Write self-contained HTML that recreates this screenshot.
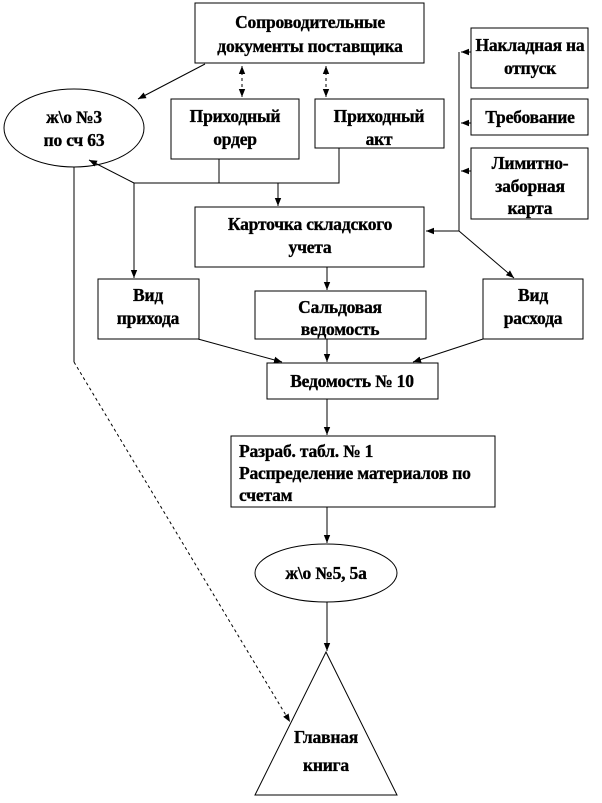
<!DOCTYPE html>
<html><head><meta charset="utf-8"><style>
html,body{margin:0;padding:0;background:#fff}
svg text{font-family:"Liberation Serif",serif;font-weight:bold;font-size:17.5px;letter-spacing:-0.2px;stroke:#000;stroke-width:0.35px}
</style></head><body>
<svg width="602" height="798" viewBox="0 0 602 798" xmlns="http://www.w3.org/2000/svg">
<defs>
<marker id="a" viewBox="0 0 10 10" refX="10" refY="5" markerWidth="8" markerHeight="8" orient="auto-start-reverse"><path d="M0,1 L10,5 L0,9 z" fill="#000"/></marker>
</defs>
<g fill="#fff" stroke="#000" stroke-width="1">
<rect x="195" y="3" width="229" height="60"/>
<ellipse cx="74" cy="128" rx="70" ry="39"/>
<rect x="171" y="99" width="128" height="60"/>
<rect x="315" y="99" width="129" height="49"/>
<rect x="471" y="28" width="117" height="60"/>
<rect x="471" y="99" width="117" height="36"/>
<rect x="471" y="148" width="117" height="71"/>
<rect x="195" y="207" width="229" height="60"/>
<rect x="98" y="279" width="101" height="60"/>
<rect x="255" y="291" width="171" height="48"/>
<rect x="483" y="279" width="100" height="60"/>
<rect x="267" y="363" width="171" height="36"/>
<rect x="231" y="436" width="264" height="71"/>
<ellipse cx="326" cy="573" rx="71" ry="29"/>
<path d="M326,652 L397,795 L255,795 Z"/>
</g>
<g stroke="#000" stroke-width="1" fill="none">
<line x1="205" y1="64" x2="138" y2="99" marker-end="url(#a)"/>
<line x1="242" y1="66" x2="242" y2="97" stroke-dasharray="3,3" marker-start="url(#a)" marker-end="url(#a)"/>
<line x1="326" y1="66" x2="326" y2="97" stroke-dasharray="3,3" marker-start="url(#a)" marker-end="url(#a)"/>
<polyline points="219,159 219,183"/>
<polyline points="339,148 339,183 134,183"/>
<line x1="134" y1="183" x2="89" y2="160" marker-end="url(#a)"/>
<line x1="134" y1="183" x2="134" y2="278" marker-end="url(#a)"/>
<line x1="278" y1="183" x2="278" y2="206" marker-end="url(#a)"/>
<line x1="459" y1="52" x2="459" y2="231"/>
<line x1="471" y1="52" x2="461" y2="52" marker-end="url(#a)"/>
<line x1="471" y1="123" x2="461" y2="123" marker-end="url(#a)"/>
<line x1="471" y1="171" x2="461" y2="171" marker-end="url(#a)"/>
<line x1="459" y1="231" x2="426" y2="231" marker-end="url(#a)"/>
<line x1="459" y1="231" x2="514" y2="278" marker-end="url(#a)"/>
<line x1="327" y1="267" x2="327" y2="290" marker-end="url(#a)"/>
<line x1="198" y1="339" x2="282" y2="362" marker-end="url(#a)"/>
<line x1="327" y1="339" x2="327" y2="362" marker-end="url(#a)"/>
<line x1="483" y1="339" x2="413" y2="362" marker-end="url(#a)"/>
<line x1="327" y1="399" x2="327" y2="435" marker-end="url(#a)"/>
<line x1="327" y1="507" x2="327" y2="543" marker-end="url(#a)"/>
<line x1="327" y1="602" x2="327" y2="651" marker-end="url(#a)"/>
<line x1="74" y1="167" x2="74" y2="362"/>
<line x1="74" y1="362" x2="290" y2="722" stroke-dasharray="3,3" marker-end="url(#a)"/>
</g>
<g fill="#000" text-anchor="middle">
<text x="310" y="28">Сопроводительные</text>
<text x="310" y="52">документы поставщика</text>
<text x="74" y="123">ж\о №3</text>
<text x="74" y="146">по сч 63</text>
<text x="235" y="122">Приходный</text>
<text x="235" y="145">ордер</text>
<text x="379" y="122">Приходный</text>
<text x="379" y="145">акт</text>
<text x="530" y="51">Накладная на</text>
<text x="530" y="74">отпуск</text>
<text x="530" y="123">Требование</text>
<text x="530" y="169">Лимитно-</text>
<text x="530" y="192">заборная</text>
<text x="530" y="214">карта</text>
<text x="310" y="230">Карточка складского</text>
<text x="310" y="253">учета</text>
<text x="148" y="301">Вид</text>
<text x="148" y="324">прихода</text>
<text x="340" y="313">Сальдовая</text>
<text x="340" y="335">ведомость</text>
<text x="533" y="301">Вид</text>
<text x="533" y="324">расхода</text>
<text x="352" y="387">Ведомость № 10</text>
<text x="326" y="579">ж\о №5, 5а</text>
<text x="326" y="743">Главная</text>
<text x="326" y="771">книга</text>
</g>
<g fill="#000" text-anchor="start">
<text x="239" y="457">Разраб. табл. № 1</text>
<text x="239" y="479">Распределение материалов по</text>
<text x="239" y="501">счетам</text>
</g>
</svg>
</body></html>
